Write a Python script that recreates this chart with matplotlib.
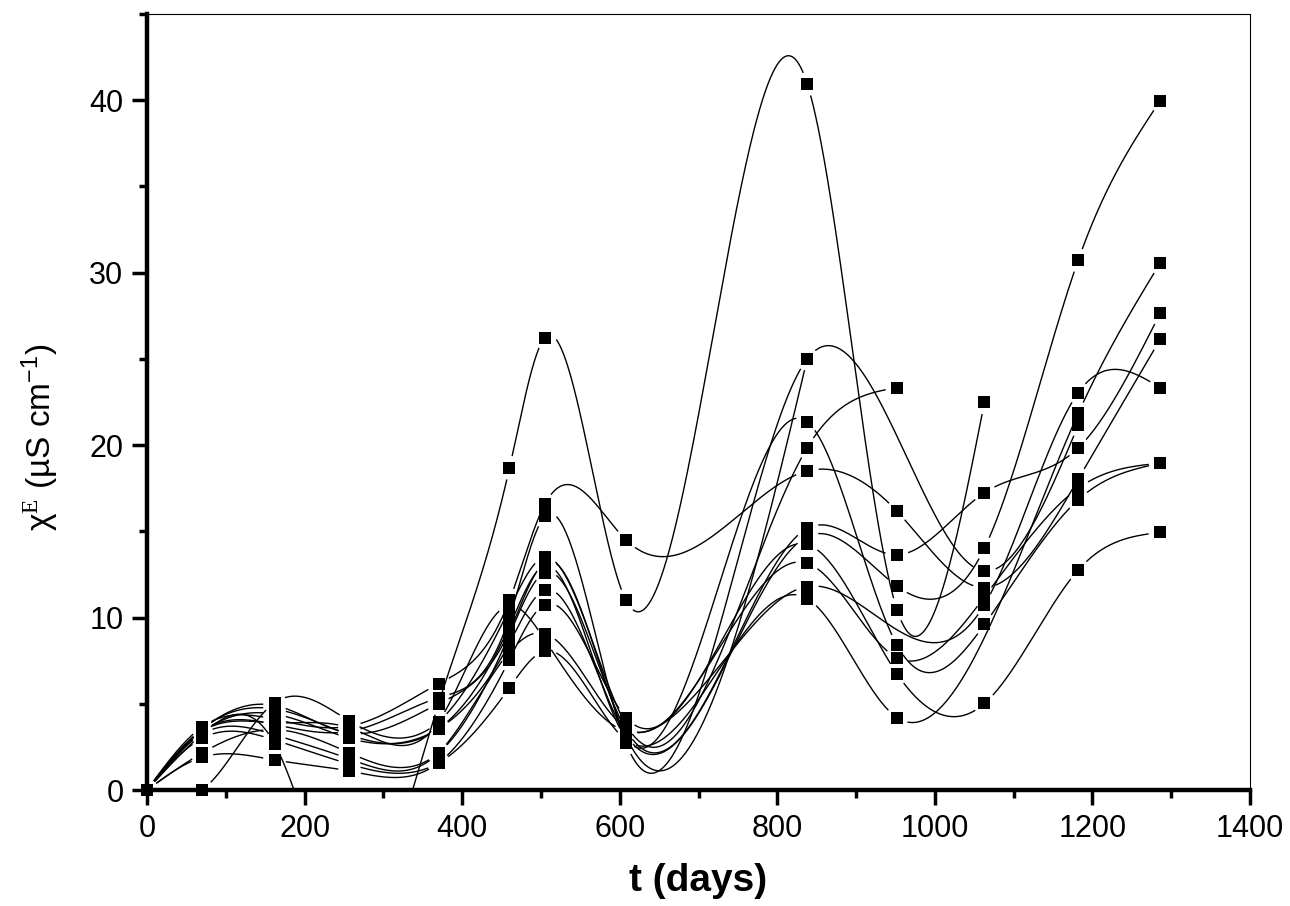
import numpy as np
import matplotlib
matplotlib.use("Agg")
import matplotlib.pyplot as plt
from matplotlib.ticker import MultipleLocator

nan = np.nan
# sampling times (days)
t_days = [0, 70, 162, 257, 370, 460, 505, 608, 838, 952, 1063, 1182, 1286]

# chi^E values (uS/cm) for each sample series
s_A = [0, 3.25, 2.67, -7.0, 5.0, 18.66, 26.24, 11.0, 40.95, 10.46, 22.5, nan, nan]
s_B = [0, 3.66, 4.1, 3.7, 6.16, 11.0, 16.57, 14.5, 18.5, 16.16, 11.74, 18.03, 26.13]
s_C = [0, 3.45, 3.8, 3.4, 5.35, 10.0, 15.87, 2.7, 25.0, nan, 12.7, 21.15, nan]
s_D = [0, 0.0, 5.06, 4.0, 3.95, 10.5, 13.5, 3.8, 19.85, 23.33, nan, nan, nan]
s_E = [0, 3.55, 4.7, 3.2, 3.55, 9.5, 13.0, 3.0, 21.35, 8.4, 9.6, 16.83, 18.95]
s_F = [0, 2.15, 3.5, 2.15, 2.15, 9.0, 12.6, 3.5, 15.17, 13.64, 17.24, 19.84, 27.65]
s_G = [0, 3.35, 4.4, 3.0, 3.55, 8.5, 11.6, 3.2, 14.7, 11.82, 14.03, 30.73, 39.97]
s_H = [0, 1.9, 1.74, 1.1, 1.57, 7.56, 10.75, 4.2, 14.24, 6.74, 5.02, 12.76, 14.94]
s_I = [0, 3.25, 3.2, 1.8, 2.15, 8.0, 9.07, 3.6, 13.15, 7.67, 11.2, 17.5, 18.95]
s_J = [0, 3.0, 2.9, 1.5, 1.57, 5.93, 8.06, 2.9, 11.1, 4.2, nan, 21.84, 30.56]
s_K = [0, 3.4, 3.9, 3.6, 3.95, 10.7, 8.7, 3.4, 11.8, nan, 10.75, 23.04, 23.33]
s_L = [0, 3.5, 4.9, 3.3, 5.0, 9.2, 13.2, 3.1, 25.0, nan, nan, nan, nan]
series = [s_A, s_B, s_C, s_D, s_E, s_F, s_G, s_H, s_I, s_J, s_K, s_L]

x_ticks = [0, 200, 400, 600, 800, 1000, 1200, 1400]
y_ticks = [0, 10, 20, 30, 40]


def natural_spline(x, y, xs):
    n = len(x)
    h = np.diff(x)
    A = np.zeros((n, n))
    r = np.zeros(n)
    A[0, 0] = 1
    A[-1, -1] = 1
    for i in range(1, n - 1):
        A[i, i - 1] = h[i - 1]
        A[i, i] = 2 * (h[i - 1] + h[i])
        A[i, i + 1] = h[i]
        r[i] = 6 * ((y[i + 1] - y[i]) / h[i] - (y[i] - y[i - 1]) / h[i - 1])
    M = np.linalg.solve(A, r)
    idx = np.clip(np.searchsorted(x, xs) - 1, 0, n - 2)
    x0, x1 = x[idx], x[idx + 1]
    hh = x1 - x0
    a = (x1 - xs) / hh
    b = (xs - x0) / hh
    return a * y[idx] + b * y[idx + 1] + ((a ** 3 - a) * M[idx] + (b ** 3 - b) * M[idx + 1]) * hh ** 2 / 6


plt.rcParams['font.family'] = ['Liberation Sans', 'DejaVu Sans']
plt.rcParams['mathtext.fontset'] = 'custom'
plt.rcParams['mathtext.rm'] = 'Liberation Sans'
plt.rcParams['mathtext.it'] = 'Liberation Sans:italic'
plt.rcParams['mathtext.tt'] = 'Liberation Serif'

fig = plt.figure(figsize=(12.9, 9.06), dpi=100)
ax = fig.add_axes([147 / 1290, 1 - 790 / 906, (1250 - 147) / 1290, (790 - 14) / 906])
ax.set_xlim(0, 1400)
ax.set_ylim(0, 45)

tarr = np.array(t_days, dtype=float)
gap_px = 12.0
for s in series:
    y = np.array(s, dtype=float)
    ok = ~np.isnan(y)
    xk, yk = tarr[ok], y[ok]
    xs = np.linspace(xk[0], xk[-1], 3000)
    ys = natural_spline(xk, yk, xs)
    pts = ax.transData.transform(np.column_stack([xs, ys]))
    mk = ax.transData.transform(np.column_stack([xk, yk]))
    d = np.min(np.hypot(pts[:, None, 0] - mk[None, :, 0], pts[:, None, 1] - mk[None, :, 1]), axis=1)
    ys_plot = ys.copy()
    ys_plot[d < gap_px] = np.nan
    ax.plot(xs, ys_plot, color='black', lw=1.0, zorder=2)
    vis = yk >= 0
    ax.plot(xk[vis], yk[vis], linestyle='none', marker='s', markersize=8.5,
            color='black', markeredgewidth=0, zorder=3, clip_on=False)

ax.xaxis.set_major_locator(MultipleLocator(200))
ax.xaxis.set_minor_locator(MultipleLocator(100))
ax.yaxis.set_major_locator(MultipleLocator(10))
ax.yaxis.set_minor_locator(MultipleLocator(5))
ax.set_xticks(x_ticks)
ax.set_yticks(y_ticks)
ax.tick_params(which='major', direction='out', length=11, width=2.5, labelsize=22, pad=6)
ax.tick_params(which='minor', direction='out', length=6, width=2.5)
ax.tick_params(top=False, right=False, which='both')
for side in ['left', 'bottom']:
    ax.spines[side].set_linewidth(3.2)
for side in ['top', 'right']:
    ax.spines[side].set_linewidth(0.8)

fig.text(698 / 1290, 1 - 881 / 906, 't (days)', ha='center', va='center',
         fontsize=28, fontweight='bold')
fig.text(40 / 1290, 1 - 437 / 906, 'χ$^{\\mathtt{E}}$ (µS cm$^{-1}$)', rotation=90,
         ha='center', va='center', fontsize=24)

fig.savefig('out.png', dpi=100)
